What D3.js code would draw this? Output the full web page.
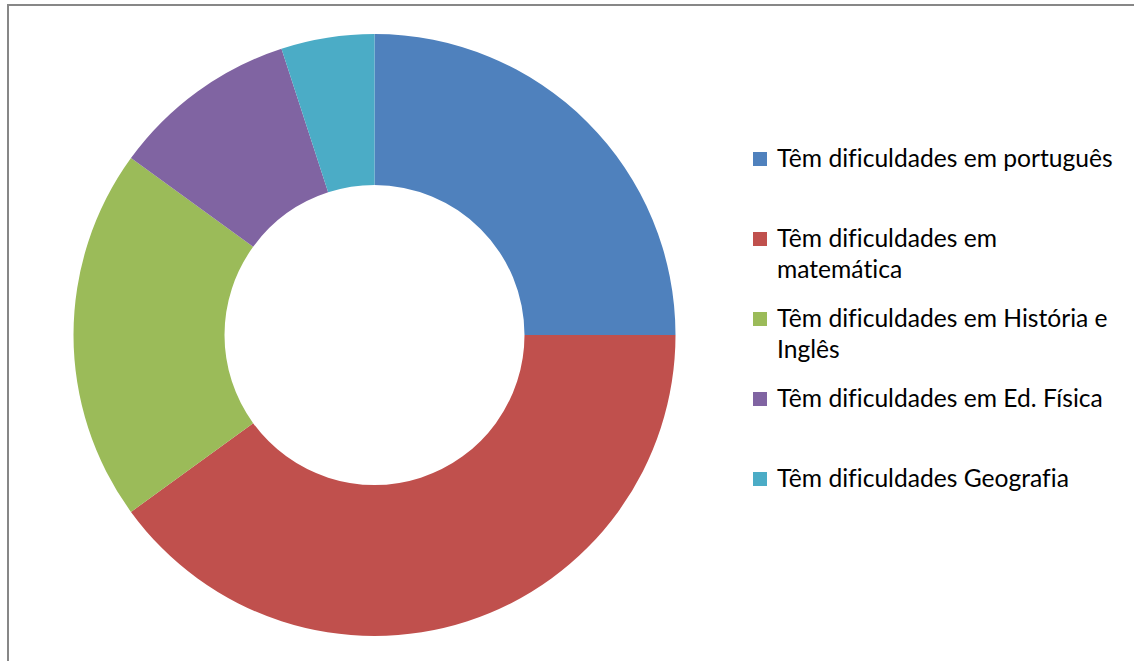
<!DOCTYPE html>
<html>
<head>
<meta charset="utf-8">
<script src="https://cdn.jsdelivr.net/npm/d3@7"></script>
<style>
  html, body { margin: 0; padding: 0; background: #fff; overflow: hidden; }
  svg { display: block; }
  text { font-variant-ligatures: none; }
</style>
</head>
<body>
<svg id="chart" width="1134" height="661"></svg>
<script>
// Share of students by subject difficulty (percent)
const categories = [
  ["Têm dificuldades em português"],
  ["Têm dificuldades em", "matemática"],
  ["Têm dificuldades em História e", "Inglês"],
  ["Têm dificuldades em Ed. Física"],
  ["Têm dificuldades Geografia"]
];
const values = [25, 40, 20, 10, 5];
const colors = ["#4F81BD", "#C0504D", "#9BBB59", "#8064A2", "#4BACC6"];

const W = 1134, H = 661;
const svg = d3.select("#chart");

// chart area frame (only top and left edges fall inside the view)
svg.append("rect")
  .attr("x", 8).attr("y", 5)
  .attr("width", W + 20).attr("height", H + 20)
  .attr("fill", "#fff")
  .attr("stroke", "#878787")
  .attr("stroke-width", 2);

// doughnut
const cx = 374.5, cy = 335, outerR = 301, innerR = 150;
const pie = d3.pie().sort(null).value(d => d.value);
const arc = d3.arc().innerRadius(innerR).outerRadius(outerR);
const data = values.map((v, i) => ({ value: v, color: colors[i] }));

svg.append("g")
  .attr("transform", `translate(${cx},${cy})`)
  .selectAll("path")
  .data(pie(data))
  .join("path")
  .attr("d", arc)
  .attr("fill", d => d.data.color);

// legend
const fontFamily = "Lato, 'Open Sans', sans-serif";
const legendX = 753, textX = 777, box = 14, lineGap = 31;
const rowY = d3.scaleLinear().domain([0, categories.length - 1]).range([167, 487]);

// size the legend font so the longest single-line entry spans its width
const probe = svg.append("text")
  .attr("font-family", fontFamily)
  .attr("font-size", 20)
  .text(categories[0][0]);
const w20 = probe.node().getComputedTextLength();
probe.remove();
const fontSize = 20 * 336 / w20;

const legend = svg.append("g").attr("class", "legend");
categories.forEach((lines, i) => {
  const y = rowY(i);
  legend.append("rect")
    .attr("x", legendX).attr("y", y - box - 1)
    .attr("width", box).attr("height", box)
    .attr("fill", colors[i]);
  const t = legend.append("text")
    .attr("font-family", fontFamily)
    .attr("font-size", fontSize)
    .attr("fill", "#000");
  lines.forEach((ln, j) => {
    t.append("tspan")
      .attr("x", textX)
      .attr("y", y + j * lineGap)
      .text(ln);
  });
});
</script>
</body>
</html>
